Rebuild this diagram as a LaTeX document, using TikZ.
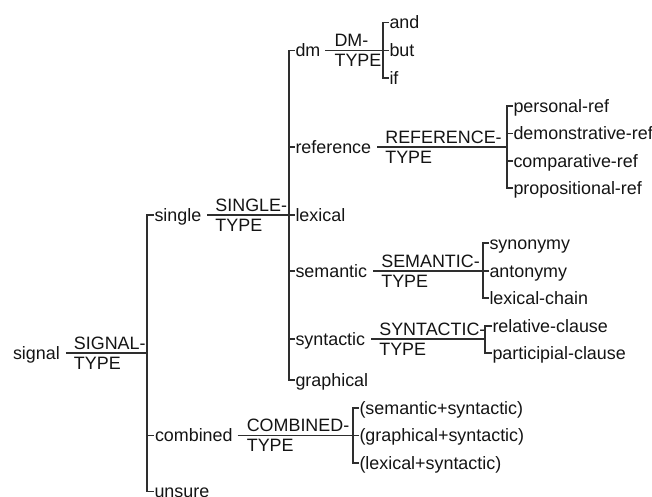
\documentclass[tikz,border=0pt]{standalone}
\usepackage{fontspec}
\setmainfont{Liberation Sans}
\newcommand\netfont{\fontsize{17.9}{20}\selectfont}
\begin{document}
\begin{tikzpicture}[x=1pt,y=-1pt,
  net/.style={line width=1.15pt, draw=black!82, line join=miter},
  term/.style={font=\netfont, inner xsep=0.8pt, inner ysep=0pt,
    text height=12pt, text depth=0pt, anchor=west, text=black!92},
  sysname/.style={font=\netfont, inner sep=0pt, anchor=base west, text=black!92}]
\useasboundingbox (0,0) rectangle (652,496);

% bracket positions
\coordinate (b1) at (147,353);
\coordinate (b2) at (289,215);
\coordinate (b3) at (383,50.5);
\coordinate (b4) at (507,147);
\coordinate (b5) at (483,271);
\coordinate (b6) at (485,339);
\coordinate (b7) at (353,435.5);

% terms
\node[term] (signal) at (12,353) {signal};
\node[term] (single) at (153.5,215) {single};
\node[term] (combined) at (154,435.5) {combined};
\node[term] (unsure) at (153.5,491.5) {unsure};

\node[term] (dm) at (294.5,50.5) {dm};
\node[term] (reference) at (294.5,147) {reference};
\node[term] (lexical) at (294.5,215) {lexical};
\node[term] (semantic) at (294.5,271) {semantic};
\node[term] (syntactic) at (294.5,339) {syntactic};
\node[term] (graphical) at (294.5,380) {graphical};

\node[term] (and) at (388.5,22.5) {and};
\node[term] (but) at (388.5,50.5) {but};
\node[term] (if) at (388.5,78) {if};

\node[term] (pers) at (512.5,106) {personal-ref};
\node[term] (demo) at (512.5,133.5) {demonstrative-ref};
\node[term] (comp) at (512.5,161) {comparative-ref};
\node[term] (prop) at (512.5,188) {propositional-ref};

\node[term] (syno) at (488.5,243) {synonymy};
\node[term] (anto) at (488.5,271) {antonymy};
\node[term] (chain) at (488.5,298) {lexical-chain};

\node[term] (rel) at (491.5,326) {relative-clause};
\node[term] (part) at (491.5,353) {participial-clause};

\node[term] (semsyn) at (358.5,408) {(semantic+syntactic)};
\node[term] (grasyn) at (358.5,435.5) {(graphical+syntactic)};
\node[term] (lexsyn) at (358.5,463) {(lexical+syntactic)};

% system names
\foreach \src/\nm/\txt in {signal/sigN/SIGNAL-, single/sinN/SINGLE-, dm/dmN/DM-,
    reference/refN/REFERENCE-, semantic/semN/SEMANTIC-, syntactic/synN/SYNTACTIC-,
    combined/comN/COMBINED-} {
  \node[sysname] (\nm) at ([xshift=13pt,yshift=3.8pt]\src.east) {\txt};
  \node[sysname] (\nm T) at ([xshift=13pt,yshift=-16pt]\src.east) {TYPE};
}

% entry lines
\draw[net] ([xshift=5pt]signal.east) -- (b1);
\draw[net] ([xshift=5pt]single.east) -- (b2);
\draw[net] ([xshift=4pt]combined.east) -- (b7);
\draw[net] ([xshift=4pt]dm.east) -- (b3);
\draw[net] ([xshift=5pt]reference.east) -- (b4);
\draw[net] ([xshift=5pt]semantic.east) -- (b5);
\draw[net] ([xshift=5pt]syntactic.east) -- (b6);

% brackets
\draw[net] (single.west) -| (b1 |- unsure.west) -- (unsure.west);
\draw[net] (b1 |- combined.west) -- (combined.west);

\draw[net] (dm.west) -| (b2 |- graphical.west) -- (graphical.west);
\foreach \t in {reference,lexical,semantic,syntactic}
  \draw[net] (b2 |- \t.west) -- (\t.west);

\draw[net] (and.west) -| (b3 |- if.west) -- (if.west);
\draw[net] (b3 |- but.west) -- (but.west);

\draw[net] (pers.west) -| (b4 |- prop.west) -- (prop.west);
\draw[net] (b4 |- demo.west) -- (demo.west);
\draw[net] (b4 |- comp.west) -- (comp.west);

\draw[net] (syno.west) -| (b5 |- chain.west) -- (chain.west);
\draw[net] (b5 |- anto.west) -- (anto.west);

\draw[net] (rel.west) -| (b6 |- part.west) -- (part.west);

\draw[net] (semsyn.west) -| (b7 |- lexsyn.west) -- (lexsyn.west);
\draw[net] (b7 |- grasyn.west) -- (grasyn.west);
\end{tikzpicture}
\end{document}
